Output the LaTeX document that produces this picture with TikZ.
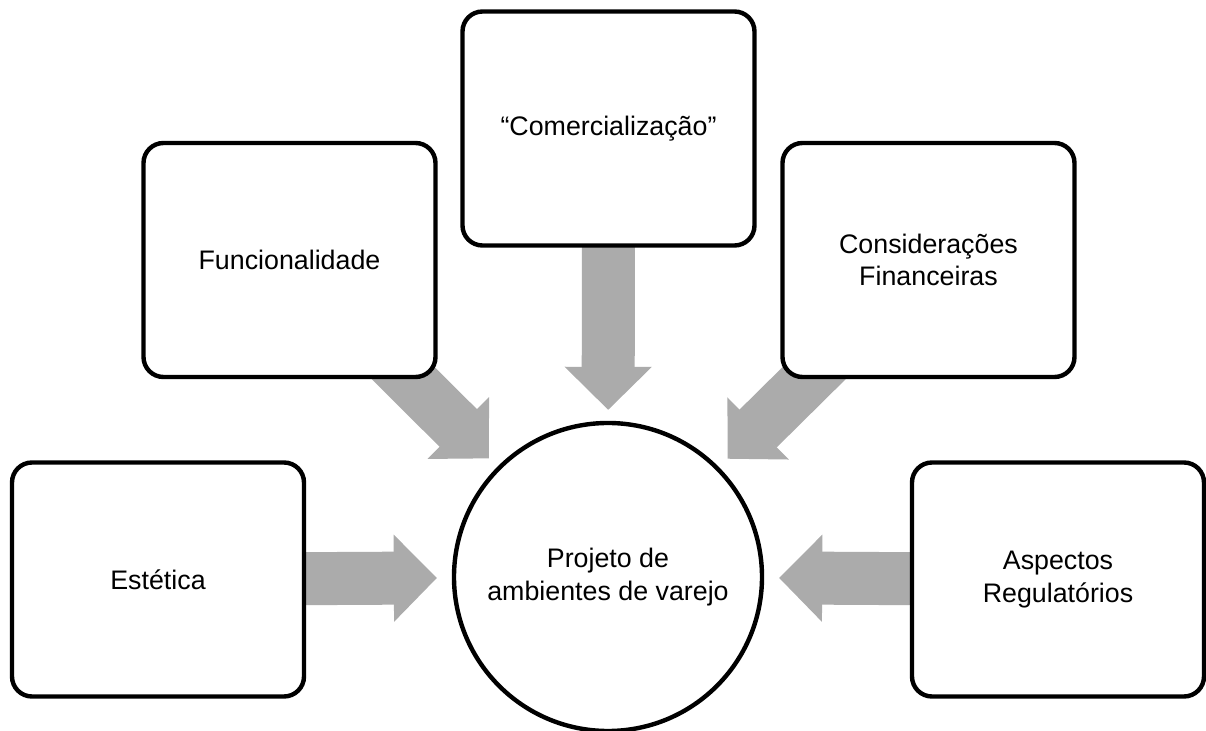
\documentclass[tikz,border=0pt]{standalone}
\usepackage{fontspec}
\setmainfont{Liberation Sans}
\usetikzlibrary{arrows.meta,backgrounds}
\definecolor{setacinza}{RGB}{171,171,171}

\begin{document}
\begin{tikzpicture}[x=0.5pt,y=-0.5pt,
	texto/.style={align=center,font=\fontsize{13.4}{16.4}\selectfont},
	caixa/.style={texto,draw,line width=2.2pt,rounded corners=10pt,fill=white,minimum width=146pt,minimum height=117pt},
	centro/.style={texto,draw,circle,line width=2.2pt,fill=white,minimum size=154pt,inner sep=0pt},
	seta/.style={setacinza,line width=26.5pt,-{Triangle[width=43.5pt,length=21.5pt,line width=0.8pt]}}]
	\useasboundingbox (0,0) rectangle (1206,731);
	\node[centro] (proj) at (608,577) {Projeto de\\ambientes de varejo};
	\node[caixa] (est) at (158,579.5) {Estética};
	\node[caixa] (fun) at (289.5,260) {Funcionalidade};
	\node[caixa] (com) at (608.5,128.5) {“Comercialização”};
	\node[caixa] (fin) at (928.5,260) {Considerações\\Financeiras};
	\node[caixa] (reg) at (1058,579.5) {Aspectos\\Regulatórios};
	\begin{scope}[on background layer]
	\foreach \a/\s in {est/7.5,fun/6,com/5.5,fin/6,reg/7.5}
		\draw[seta,shorten >=\s pt] (\a.center) -- (proj);
	\end{scope}
\end{tikzpicture}
\end{document}
